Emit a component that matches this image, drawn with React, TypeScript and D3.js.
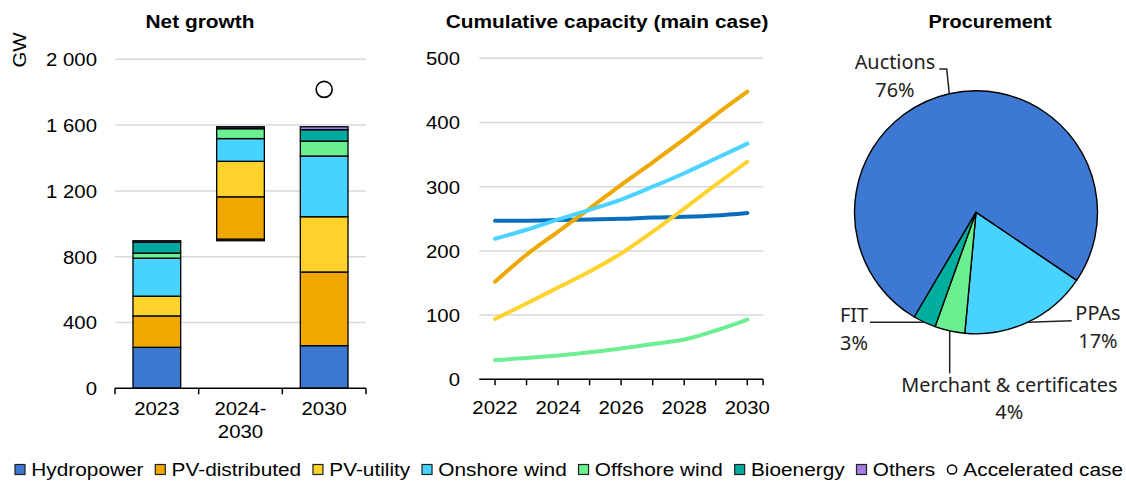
import React from "react";
import * as d3 from "d3";

// ---------- DATA ----------
const barCategories = ["2023", "2024-\n2030", "2030"];
const seriesNames = ["Hydropower", "PV-distributed", "PV-utility", "Onshore wind", "Offshore wind", "Bioenergy", "Others"];
const hydropower = [249, 10, 259];
const pvDistributed = [191, 257, 448];
const pvUtility = [120, 216, 336];
const onshoreWind = [231, 138, 369];
const offshoreWind = [31, 60, 91];
const bioenergy = [66, 3, 69];
const others = [9, 9, 18];
const acceleratedCase = [null, null, 1817];
const floatingBar = [false, true, false];
const barTicks = [0, 400, 800, 1200, 1600, 2000];

const years = [2022, 2023, 2024, 2025, 2026, 2027, 2028, 2029, 2030];
const hydroLine = [247, 247, 248, 249, 250, 252, 253, 255, 259];
const pvDistLine = [152, 194, 230, 266, 303, 338, 374, 412, 448];
const pvUtilLine = [94, 118, 143, 168, 196, 230, 266, 303, 339];
const onshoreLine = [219, 233, 249, 264, 280, 300, 321, 344, 367];
const offshoreLine = [30, 33, 37, 42, 48, 55, 62, 76, 93];
const lineTicksX = [2022, 2024, 2026, 2028, 2030];
const lineTicksY = [0, 100, 200, 300, 400, 500];

const pieLabels = ["Auctions", "PPAs", "Merchant & certificates", "FIT"];
const pieValues = [76, 17, 4, 3];

// ---------- STYLE ----------
const barColors = ["#3D78D0", "#F0A800", "#FDD22A", "#48D2FF", "#6AF090", "#00A99D", "#A57BE6"];
const lineColors = ["#0A6EC0", "#EEA800", "#FFD22E", "#4DD3FF", "#6EEE92"];
const pieColors = ["#3D78D2", "#48D2FF", "#6AF090", "#00AE9F"];
const AX_FONT = '"Liberation Sans", Arial, sans-serif';
const PIE_FONT = '"Noto Sans", "Open Sans", sans-serif';
const FS = 18.5;
const SX = 1.1;
const SX_TITLE = 1.13;
const SX_LEGEND = 1.125;

type TProps = { x: number; y: number; anchor?: string; size?: number; weight?: string | number; sx?: number; font?: string; fill?: string; rotate?: number; children: React.ReactNode };
const T = ({ x, y, anchor = "middle", size = FS, weight = "normal", sx = SX, font = AX_FONT, fill = "#000", rotate = 0, children }: TProps) => (
  <text
    transform={`translate(${x},${y}) rotate(${rotate}) scale(${sx},1)`}
    textAnchor={anchor}
    fontFamily={font}
    fontSize={size}
    fontWeight={weight}
    fill={fill}
  >
    {children}
  </text>
);

function measure(text: string, font: string): number {
  const c = document.createElement("canvas").getContext("2d");
  if (!c) return text.length * 10;
  c.font = font;
  return c.measureText(text).width;
}

export default function App() {
  const W = 1126, H = 483;

  // ---- Bar chart ----
  const xb = d3.scaleBand<string>().domain(barCategories).range([115, 366]).paddingInner(0.43).paddingOuter(0.215);
  const yb = d3.scaleLinear().domain([0, 2000]).range([388.3, 59.3]);
  const seriesData = [hydropower, pvDistributed, pvUtility, onshoreWind, offshoreWind, bioenergy, others];
  const rows = barCategories.map((c, i) => {
    const r: any = { cat: c };
    seriesNames.forEach((s, j) => (r[s] = seriesData[j][i]));
    return r;
  });
  const stacked = d3.stack<any>().keys(seriesNames)(rows);
  const bases = barCategories.map((_, i) => (floatingBar[i] && i > 0 ? d3.sum(seriesData, (s) => s[i - 1]) : 0));

  // ---- Line chart ----
  const xl = d3.scaleLinear().domain([2022, 2030]).range([495, 747.3]);
  const yl = d3.scaleLinear().domain([0, 500]).range([379.3, 58.3]);
  const lines = [hydroLine, pvDistLine, pvUtilLine, onshoreLine, offshoreLine];
  const lineGen = d3.line<number>().x((_, i) => xl(years[i])).y((d) => yl(d)).curve(d3.curveMonotoneX);
  const step = xl(2023) - xl(2022);
  const axL = xl(2022) - step / 2, axR = xl(2030) + step / 2;

  // ---- Pie ----
  const cx = 976, cy = 212.3, R = 121.5;
  const startA = (-149.5 * Math.PI) / 180;
  const pie = d3.pie<number>().sort(null).startAngle(startA).endAngle(startA + 2 * Math.PI)(pieValues);
  const arc = d3.arc<d3.PieArcDatum<number>>().innerRadius(0).outerRadius(R);
  const edge = (a: d3.PieArcDatum<number>) => {
    const m = (a.startAngle + a.endAngle) / 2;
    return [cx + R * Math.sin(m), cy - R * Math.cos(m)];
  };
  const eA = edge(pie[0]), eP = edge(pie[1]), eM = edge(pie[2]), eF = edge(pie[3]);

  // ---- Legend ----
  const legendFont = `${FS}px ${AX_FONT}`;
  let lx = 15;
  const legendItems = [...seriesNames, "Accelerated case"].map((name, i) => {
    const tw = measure(name, legendFont) * SX_LEGEND;
    const item = { name, x: lx, color: i < barColors.length ? barColors[i] : null, tx: lx + 16.3 };
    lx = lx + 16.3 + tw + 11.8;
    return item;
  });

  return (
    <svg width={W} height={H} style={{ position: "absolute", left: 0, top: 0, background: "#fff" }}>
      {/* ===== Bar chart ===== */}
      <T x={200} y={27.5} weight="bold" sx={SX_TITLE}>Net growth</T>
      <T x={25.5} y={50} rotate={-90}>GW</T>
      {barTicks.map((t) => (
        <g key={t}>
          {t > 0 && <line x1={115} x2={366} y1={yb(t)} y2={yb(t)} stroke="#d9d9d9" strokeWidth={1.5} />}
          <T x={97} y={yb(t) + 6.8} anchor="end">{d3.format(",")(t).replace(",", " ")}</T>
        </g>
      ))}
      {stacked.map((s, j) => (
        <g key={s.key}>
          {s.map((d, i) => {
            const b = bases[i];
            const h = yb(b + d[0]) - yb(b + d[1]);
            return (
              <rect key={i} x={xb(barCategories[i])!} width={xb.bandwidth()} y={yb(b + d[1])} height={Math.max(h, 0)}
                fill={barColors[j]} stroke="#000" strokeWidth={1.3} />
            );
          })}
        </g>
      ))}
      {acceleratedCase.map((v, i) =>
        v == null ? null : (
          <circle key={i} cx={xb(barCategories[i])! + xb.bandwidth() / 2} cy={yb(v)} r={8} fill="#fff" stroke="#000" strokeWidth={1.6} />
        )
      )}
      <line x1={115} x2={366} y1={yb(0)} y2={yb(0)} stroke="#000" strokeWidth={1.5} />
      {[0, 1, 2, 3].map((i) => {
        const x = 115 + (i * (366 - 115)) / 3;
        return <line key={i} x1={x} x2={x} y1={yb(0)} y2={yb(0) + 6} stroke="#000" strokeWidth={1.5} />;
      })}
      {barCategories.map((c) => {
        const x = xb(c)! + xb.bandwidth() / 2;
        return c.split("\n").map((ln, k) => (
          <T key={c + k} x={x} y={415 + k * 23.3}>{ln}</T>
        ));
      })}

      {/* ===== Line chart ===== */}
      <T x={607} y={27.5} weight="bold" sx={SX_TITLE}>Cumulative capacity (main case)</T>
      {lineTicksY.map((t) => (
        <g key={t}>
          {t > 0 && <line x1={axL} x2={axR} y1={yl(t)} y2={yl(t)} stroke="#d9d9d9" strokeWidth={1.5} />}
          <T x={460} y={yl(t) + 6.8} anchor="end">{t}</T>
        </g>
      ))}
      <line x1={axL} x2={axR} y1={yl(0)} y2={yl(0)} stroke="#000" strokeWidth={1.5} />
      {[...years.map((y) => xl(y)), axR].map((x, i) => (
        <line key={i} x1={x} x2={x} y1={yl(0)} y2={yl(0) + 6} stroke="#000" strokeWidth={1.5} />
      ))}
      {lineTicksX.map((y) => (
        <T key={y} x={xl(y)} y={414.3}>{y}</T>
      ))}
      {lines.map((l, i) => (
        <path key={i} d={lineGen(l)!} fill="none" stroke={lineColors[i]} strokeWidth={4} strokeLinecap="round" />
      ))}

      {/* ===== Pie ===== */}
      <T x={990} y={27.5} weight="bold" sx={1.08}>Procurement</T>
      <g transform={`translate(${cx},${cy})`}>
        {pie.map((p, i) => (
          <path key={i} d={arc(p)!} fill={pieColors[i]} stroke="#000" strokeWidth={1.4} strokeLinejoin="round" />
        ))}
      </g>
      <g stroke="#222" strokeWidth={1.5} fill="none">
        <polyline points={`${eA[0]},${eA[1]} ${eA[0] - 2.6},69 939.3,69`} />
        <polyline points={`${eP[0]},${eP[1]} 1071.7,${eP[1] - 1.4}`} />
        <polyline points={`${eF[0]},${eF[1]} 870,${eF[1]}`} />
        <polyline points={`${eM[0]},${eM[1]} ${eM[0]},373.3`} />
      </g>
      {[
        { i: 0, x: 895, y: 69 },
        { i: 1, x: 1098, y: 320 },
        { i: 2, x: 1009.3, y: 391.7 },
        { i: 3, x: 854, y: 322.3 },
      ].map(({ i, x, y }) => (
        <g key={i}>
          <T x={x} y={y} font={PIE_FONT} size={19.5} sx={1.02} fill="#222">{pieLabels[i]}</T>
          <T x={x} y={y + 27.5} font={PIE_FONT} size={19.5} sx={1.02} fill="#222">{pieValues[i]}%</T>
        </g>
      ))}

      {/* ===== Legend ===== */}
      {legendItems.map((it) => (
        <g key={it.name}>
          {it.color ? (
            <rect x={it.x} y={464.5} width={10} height={10} fill={it.color} stroke="#222" strokeWidth={1.2} />
          ) : (
            <circle cx={it.x + 5} cy={469.5} r={4.6} fill="#fff" stroke="#000" strokeWidth={1.5} />
          )}
          <T x={it.tx} y={475.7} anchor="start" sx={SX_LEGEND}>{it.name}</T>
        </g>
      ))}
    </svg>
  );
}
